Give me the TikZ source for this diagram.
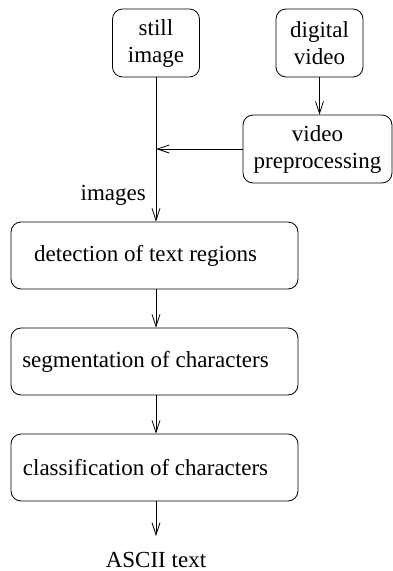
\documentclass[tikz,border=0pt]{standalone}
\usepackage{fontspec}
\setmainfont{Liberation Serif}
\usetikzlibrary{arrows.meta}
\begin{document}
\begin{tikzpicture}[x=1pt,y=-1pt,
  box/.style={draw, line width=0.8pt, rounded corners=10pt, align=center, inner sep=2pt, font=\fontsize{23}{27}\selectfont},
  lbl/.style={font=\fontsize{23}{27}\selectfont, inner sep=0pt},
  arr/.style={line width=0.8pt, -{Straight Barb[length=12pt,width=8pt,line width=0.8pt]}}]
\useasboundingbox (0,0) rectangle (393,571);
\node[box, minimum width=87pt, minimum height=68pt] (still) at (156,43) {still\\image};
\node[box, minimum width=87pt, minimum height=68pt] (dv) at (319.5,43) {digital\\video};
\node[box, minimum width=149pt, minimum height=68pt] (vp) at (317.5,149) {video\\preprocessing};
\node[box, minimum width=287pt, minimum height=67pt] (det) at (154.5,255.5) {detection of text regions\hspace*{18pt}};
\node[box, minimum width=287pt, minimum height=67pt] (seg) at (154.5,361.5) {segmentation of characters\hspace*{18pt}};
\node[box, minimum width=287pt, minimum height=67pt] (cls) at (154.5,467.5) {classification of characters\hspace*{18pt}};
\node[lbl, anchor=base east] (img) at (146,200) {images};
\node[lbl, anchor=base] (ascii) at (156,567) {ASCII text};
\coordinate (join) at (vp.west -| still.south);
\coordinate (out) at (156,536);
\draw[arr] (still.south) -- (still.south |- det.north);
\draw[arr] (vp.west) -- (join);
\draw[arr] (dv.south) -- (dv.south |- vp.north);
\draw[arr] (det.south -| still.south) -- (seg.north -| still.south);
\draw[arr] (seg.south -| still.south) -- (cls.north -| still.south);
\draw[arr] (cls.south -| still.south) -- (out);
\end{tikzpicture}
\end{document}
